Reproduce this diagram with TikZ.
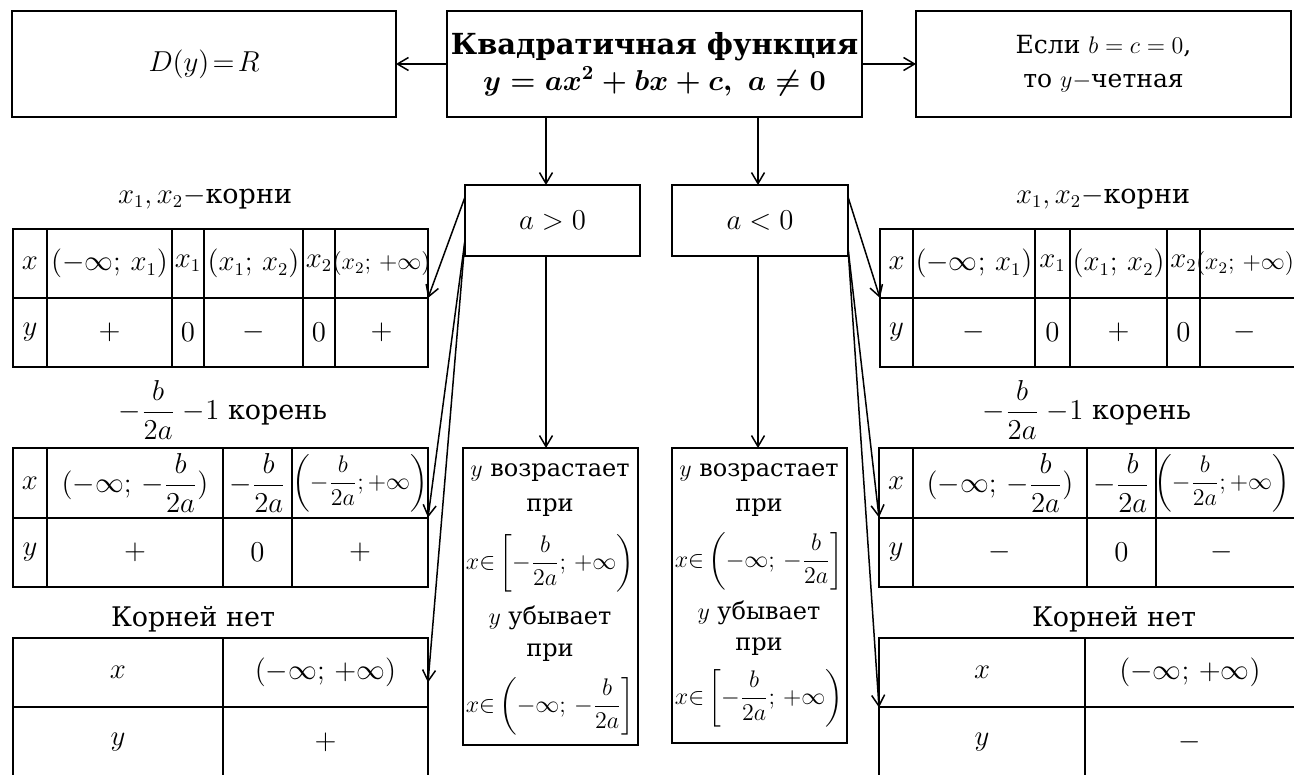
\documentclass[tikz,border=0pt]{standalone}
\usepackage{amsmath}
\usepackage{fontspec}
\setmainfont{DejaVu Serif}
\usetikzlibrary{arrows.meta,calc}
\begin{document}
\begin{tikzpicture}[x=0.5pt,y=-0.5pt,
  every node/.style={inner sep=0pt,outer sep=0pt},
  box/.style={draw,line width=1.1pt,align=center},
  tab/.style={draw,line width=1.1pt},
  tline/.style={line width=1.1pt},
  arr/.style={line width=0.75pt,-{Straight Barb[length=5.5pt,width=6.5pt,line width=0.75pt]}},
  cell/.style={font=\fontsize{13.5}{16}\selectfont},
  small/.style={font=\fontsize{12}{14}\selectfont},
  ttl/.style={font=\fontsize{13.5}{16}\selectfont},
  txt/.style={font=\fontsize{12}{14}\selectfont},
  mth/.style={font=\fontsize{13}{15}\selectfont},
]
\useasboundingbox (0,0) rectangle (1294,775);
\clip (0,0) rectangle (1294,775);

% top row
\node[box,minimum width=192pt,minimum height=53pt,font=\fontsize{14}{17}\selectfont] (D) at (204,64) {$D(y)\!=\!R$};
\node[box,minimum width=207.5pt,minimum height=53pt,font=\bfseries\fontsize{14.5}{18}\selectfont] (Q) at (654.5,64) {Квадратичная функция\\$\boldsymbol{y=ax^2+bx+c,\ a\neq0}$};
\node[box,minimum width=187.5pt,minimum height=53pt,font=\fontsize{12.5}{17}\selectfont] (E) at (1103.5,64) {Если $b=c=0$,\\то $y-$четная};
\draw[arr] (Q.west) -- (D.east);
\draw[arr] (Q.east) -- (E.west);

% a boxes
\node[box,minimum width=87.5pt,minimum height=35.5pt,font=\fontsize{14}{17}\selectfont] (ap) at (552.5,220.5) {$a>0$};
\node[box,minimum width=88pt,minimum height=35.5pt,font=\fontsize{14}{17}\selectfont] (an) at (760,220.5) {$a<0$};
\draw[arr] ($(Q.south -| ap.north)+(-6.5,0)$) -- ($(ap.north)+(-6.5,0)$);
\draw[arr] ($(Q.south -| an.north)+(-2,0)$) -- ($(an.north)+(-2,0)$);

% lower boxes
\node[box,minimum width=87.5pt,minimum height=148.5pt] (lp) at (550.5,596.5) {};
\node[box,minimum width=87.5pt,minimum height=147.5pt] (ln) at (759.5,595.5) {};
\draw[arr] ($(ap.south)+(-6.5,0)$) -- ($(lp.north)+(-4.5,0)$);
\draw[arr] ($(an.south)+(-2,0)$) -- ($(ln.north)+(-1.5,0)$);

\node[txt] (lp1) at (550,473) {$y$ возрастает};
\node[txt] (lp2) at (550,508) {при};
\node[mth] (lp3) at (550,563) {$x{\in}\left[-\dfrac{b}{2a};\,+\infty\right)$};
\node[txt] (lp4) at (550,618) {$y$ убывает};
\node[txt] (lp5) at (550,653) {при};
\node[mth] (lp6) at (550,706) {$x{\in}\left(-\infty;\,-\dfrac{b}{2a}\right]$};

\node[txt] (ln1) at (759,473) {$y$ возрастает};
\node[txt] (ln2) at (759,508) {при};
\node[mth] (ln3) at (759,561) {$x{\in}\left(-\infty;\,-\dfrac{b}{2a}\right]$};
\node[txt] (ln4) at (759,613) {$y$ убывает};
\node[txt] (ln5) at (759,647) {при};
\node[mth] (ln6) at (759,698) {$x{\in}\left[-\dfrac{b}{2a};\,+\infty\right)$};

% ---------- left tables ----------
\node[ttl] (tL1t) at (205,198) {$x_1, x_2-$корни};
\node[tab,minimum width=207.5pt,minimum height=69pt] (tL1) at (220.5,298) {};
\draw[tline] (13,298) -- (428,298);
\foreach \c in {47,172,204,303,335} \draw[tline] (\c,229) -- (\c,367);
\node[cell] (tL1a) at (30,263.5) {$x$};
\node[cell] (tL1b) at (109.5,263.5) {$(-\infty;\,x_1)$};
\node[cell] (tL1c) at (188,263.5) {$x_1$};
\node[cell] (tL1d) at (253.5,263.5) {$(x_1;\,x_2)$};
\node[cell] (tL1e) at (319,263.5) {$x_2$};
\node[small] (tL1f) at (381.5,263.5) {$(x_2;\,{+}\infty)$};
\node[cell] (tL1g) at (30,332.5) {$y$};
\node[cell] (tL1h) at (109.5,332.5) {$+$};
\node[cell] (tL1i) at (188,332.5) {$0$};
\node[cell] (tL1j) at (253.5,332.5) {$-$};
\node[cell] (tL1k) at (319,332.5) {$0$};
\node[cell] (tL1l) at (381.5,332.5) {$+$};

\node[ttl] (tL2t) at (223,410) {$-\dfrac{b}{2a}\;{-}1$ корень};
\node[tab,minimum width=207.5pt,minimum height=69.5pt] (tL2) at (220.5,517.5) {};
\draw[tline] (13,518) -- (428,518);
\foreach \c in {47,223,292} \draw[tline] (\c,448) -- (\c,587);
\node[cell] (tL2a) at (30,483) {$x$};
\node[cell] (tL2b) at (135,483) {$(-\infty;\,-\dfrac{b}{2a})$};
\node[cell] (tL2c) at (257.5,483) {$-\dfrac{b}{2a}$};
\node[small] (tL2d) at (360,483) {$\biggl(-\dfrac{b}{2a};{+}\infty\biggr)$};
\node[cell] (tL2e) at (30,552.5) {$y$};
\node[cell] (tL2f) at (135,552.5) {$+$};
\node[cell] (tL2g) at (257.5,552.5) {$0$};
\node[cell] (tL2h) at (360,552.5) {$+$};

\node[ttl] (tL3t) at (193,619) {Корней нет};
\node[tab,minimum width=207.5pt,minimum height=69.5pt] (tL3) at (220.5,707.5) {};
\draw[tline] (13,707) -- (428,707);
\draw[tline] (223,638) -- (223,777);
\node[cell] (tL3a) at (118,672.5) {$x$};
\node[cell] (tL3b) at (325.5,672.5) {$(-\infty;\,+\infty)$};
\node[cell] (tL3c) at (118,742) {$y$};
\node[cell] (tL3d) at (325.5,742) {$+$};

% ---------- right tables ----------
\node[ttl] (tR1t) at (1103,198) {$x_1, x_2-$корни};
\node[tab,minimum width=210pt,minimum height=69pt] (tR1) at (1090,298) {};
\draw[tline] (880,298) -- (1300,298);
\foreach \c in {913,1035,1070,1167,1200} \draw[tline] (\c,229) -- (\c,367);
\node[cell] (tR1a) at (896.5,263.5) {$x$};
\node[cell] (tR1b) at (974,263.5) {$(-\infty;\,x_1)$};
\node[cell] (tR1c) at (1052.5,263.5) {$x_1$};
\node[cell] (tR1d) at (1118.5,263.5) {$(x_1;\,x_2)$};
\node[cell] (tR1e) at (1183.5,263.5) {$x_2$};
\node[small] (tR1f) at (1245,263.5) {$(x_2;\,{+}\infty)$};
\node[cell] (tR1g) at (896.5,332.5) {$y$};
\node[cell] (tR1h) at (974,332.5) {$-$};
\node[cell] (tR1i) at (1052.5,332.5) {$0$};
\node[cell] (tR1j) at (1118.5,332.5) {$+$};
\node[cell] (tR1k) at (1183.5,332.5) {$0$};
\node[cell] (tR1l) at (1245,332.5) {$-$};

\node[ttl] (tR2t) at (1087,410) {$-\dfrac{b}{2a}\;{-}1$ корень};
\node[tab,minimum width=210.5pt,minimum height=69.5pt] (tR2) at (1089.5,517.5) {};
\draw[tline] (879,518) -- (1300,518);
\foreach \c in {913,1087,1156} \draw[tline] (\c,448) -- (\c,587);
\node[cell] (tR2a) at (896,483) {$x$};
\node[cell] (tR2b) at (1000,483) {$(-\infty;\,-\dfrac{b}{2a})$};
\node[cell] (tR2c) at (1121.5,483) {$-\dfrac{b}{2a}$};
\node[small] (tR2d) at (1222,483) {$\biggl(-\dfrac{b}{2a};{+}\infty\biggr)$};
\node[cell] (tR2e) at (896,552.5) {$y$};
\node[cell] (tR2f) at (1000,552.5) {$-$};
\node[cell] (tR2g) at (1121.5,552.5) {$0$};
\node[cell] (tR2h) at (1222,552.5) {$-$};

\node[ttl] (tR3t) at (1114,619) {Корней нет};
\node[tab,minimum width=210.5pt,minimum height=69.5pt] (tR3) at (1089.5,707.5) {};
\draw[tline] (879,707) -- (1300,707);
\draw[tline] (1085,638) -- (1085,777);
\node[cell] (tR3a) at (982,672.5) {$x$};
\node[cell] (tR3b) at (1190,672.5) {$(-\infty;\,+\infty)$};
\node[cell] (tR3c) at (982,742) {$y$};
\node[cell] (tR3d) at (1190,742) {$-$};

% diagonal connectors
\draw[arr] ($(ap.north west)+(0,12)$) -- (tL1.east);
\draw[arr] ($(ap.south west)+(0,-16)$) -- (tL2.east);
\draw[arr] ($(ap.south west)+(0,-16)$) -- ($(tL3.north east)!0.32!(tL3.south east)$);
\draw[arr] ($(an.north east)+(0,12)$) -- (tR1.west);
\draw[arr] ($(an.south east)+(0,-8)$) -- (tR2.west);
\draw[arr] ($(an.south east)+(0,-8)$) -- (tR3.west);
\end{tikzpicture}
\end{document}
